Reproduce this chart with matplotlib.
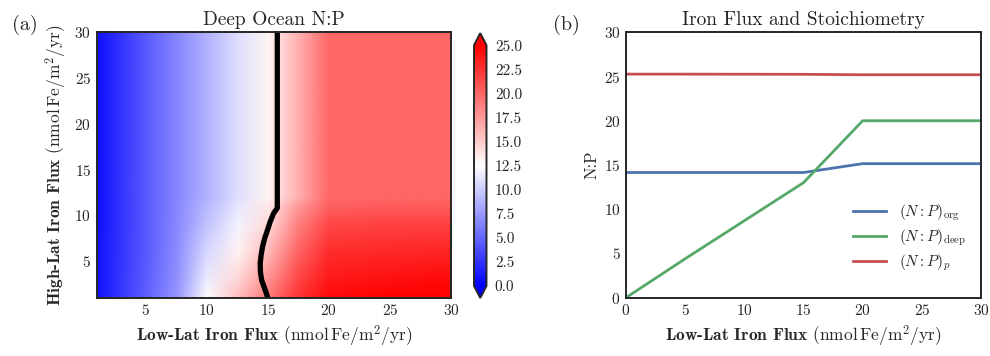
import numpy as np
import matplotlib
matplotlib.use("Agg")
import matplotlib.pyplot as plt
from matplotlib.image import NonUniformImage
from matplotlib.colors import Normalize

plt.rcParams.update({
    "font.family": "serif",
    "font.serif": ["cmr10"],
    "mathtext.fontset": "cm",
    "axes.formatter.use_mathtext": True,
    "axes.edgecolor": "#262626",
    "axes.linewidth": 1.4,
    "xtick.major.size": 0,
    "ytick.major.size": 0,
    "xtick.color": "#262626",
    "ytick.color": "#262626",
    "text.color": "#262626",
    "axes.labelcolor": "#262626",
})

# ---------------- data ----------------
# Panel (a): deep ocean N:P grid
low_lat_nodes = [1, 5, 7.5, 10, 12.5, 15, 17.5, 20, 25, 30]
high_lat_nodes = [1, 3, 6, 9, 11, 12, 30]
np_row_y1 = [0.9, 4.6, 7.4, 12.5, 15.8, 19.0, 22.5, 24.5, 25.0, 25.2]
np_row_y3 = [0.9, 4.5, 7.1, 11.6, 14.5, 17.8, 21.6, 23.8, 24.2, 24.5]
np_row_y6 = [0.9, 4.4, 6.9, 10.6, 13.1, 16.0, 20.2, 22.8, 23.0, 23.2]
np_row_y9 = [0.87, 4.4, 6.7, 9.6, 11.9, 14.3, 18.8, 21.5, 21.7, 21.8]
np_row_y11 = [0.87, 4.4, 6.6, 9.0, 11.3, 13.6, 17.6, 20.3, 20.5, 20.5]
np_row_y12 = [0.87, 4.4, 6.55, 8.7, 10.9, 13.0, 16.5, 20.0, 20.0, 20.0]
np_row_y30 = [0.87, 4.4, 6.55, 8.7, 10.9, 13.0, 16.5, 20.0, 20.0, 20.0]

# contour line (deep N:P = organic N:P)
contour_x = [15.0, 14.75, 14.5, 14.4, 14.38, 14.45, 14.57, 14.75, 14.98, 15.2, 15.47, 15.78, 15.78]
contour_y = [1.0, 2.0, 2.9, 3.8, 4.75, 5.6, 6.56, 7.5, 8.4, 9.3, 10.2, 10.8, 30.0]

# Panel (b)
flux_x = [0, 5, 10, 15, 20, 25, 30]
np_org = [14.15, 14.15, 14.15, 14.15, 15.15, 15.15, 15.15]
np_deep = [0.0, 4.4, 8.7, 13.0, 20.0, 20.0, 20.0]
np_p = [25.27, 25.27, 25.26, 25.25, 25.2, 25.2, 25.2]

cbar_ticks = [0.0, 2.5, 5.0, 7.5, 10.0, 12.5, 15.0, 17.5, 20.0, 22.5, 25.0]

# ---------------- figure ----------------
fig = plt.figure(figsize=(9.9, 3.56), dpi=100)
axA = fig.add_axes([0.0977, 0.1638, 0.3579, 0.7455])
cax = fig.add_axes([0.4788, 0.163, 0.0126, 0.744])
axB = fig.add_axes([0.6323, 0.1638, 0.3586, 0.7455])

Z = np.array([np_row_y1, np_row_y3, np_row_y6, np_row_y9,
              np_row_y11, np_row_y12, np_row_y30])
norm = Normalize(vmin=0, vmax=25)
im = NonUniformImage(axA, interpolation="bilinear", cmap="bwr", norm=norm)
im.set_data(np.array(low_lat_nodes, float), np.array(high_lat_nodes, float), Z)
axA.add_image(im)
axA.plot(contour_x, contour_y, color="black", lw=3.8, solid_capstyle="butt")
axA.set_xlim(1, 30)
axA.set_ylim(1, 30)
axA.set_xticks([5, 10, 15, 20, 25, 30])
axA.set_yticks([5, 10, 15, 20, 25, 30])
axA.tick_params(labelsize=11, pad=4)

units = r" $(\mathrm{nmol\,Fe/m^2/yr})$"
axA.set_xlabel("Low-Lat Iron Flux" + units, fontfamily="cmb10", fontsize=12.5, labelpad=4)
axA.set_ylabel("High-Lat Iron Flux" + units, fontfamily="cmb10", fontsize=12.5, labelpad=4)
axA.set_title("Deep Ocean N:P", fontsize=14, pad=5)

cb = fig.colorbar(im, cax=cax, extend="both", ticks=cbar_ticks)
cb.ax.yaxis.set_major_formatter(matplotlib.ticker.FormatStrFormatter("%.1f"))
cb.ax.tick_params(labelsize=11, length=0, pad=6)
cb.outline.set_edgecolor("#262626")
cb.outline.set_linewidth(1.4)

axB.plot(flux_x, np_org, color="#4C72B0", lw=2.0, label=r"$(N{:}P)_{\mathrm{org}}$")
axB.plot(flux_x, np_deep, color="#55A868", lw=2.0, label=r"$(N{:}P)_{\mathrm{deep}}$")
axB.plot(flux_x, np_p, color="#C44E52", lw=2.0, label=r"$(N{:}P)_{p}$")
axB.set_xlim(0, 30)
axB.set_ylim(0, 30)
axB.set_xticks([0, 5, 10, 15, 20, 25, 30])
axB.set_yticks([0, 5, 10, 15, 20, 25, 30])
axB.tick_params(labelsize=11, pad=4)
axB.set_xlabel("Low-Lat Iron Flux" + units, fontfamily="cmb10", fontsize=12.5, labelpad=4)
axB.set_ylabel("N:P", fontsize=12, labelpad=3)
axB.set_title("Iron Flux and Stoichiometry", fontsize=14, pad=5)
axB.legend(loc="center left", bbox_to_anchor=(0.60, 0.225), frameon=False,
           fontsize=11, handlelength=2.2, labelspacing=0.3)

fig.text(0.012, 0.916, "(a)", fontsize=14.5)
fig.text(0.559, 0.916, "(b)", fontsize=14.5)

fig.savefig("out.png", dpi=100)
